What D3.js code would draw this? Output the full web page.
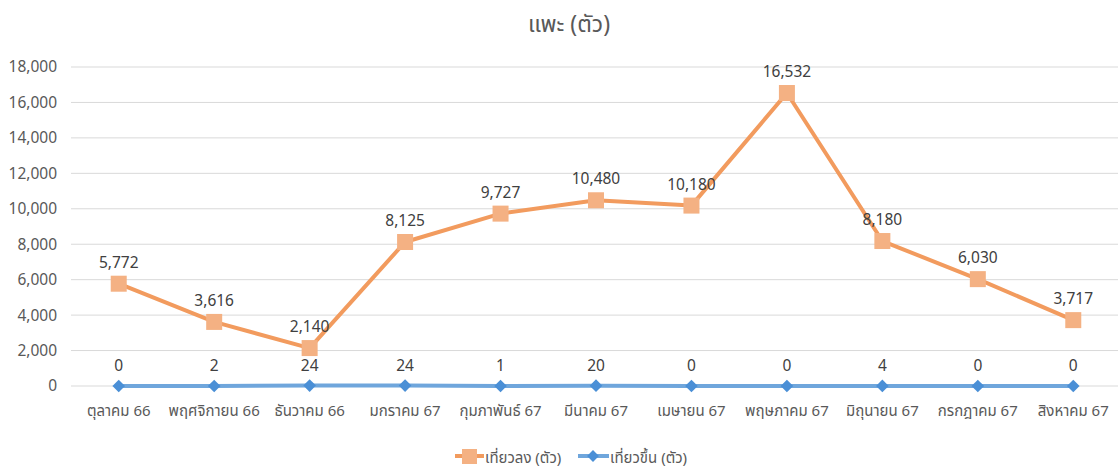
<!DOCTYPE html>
<html><head><meta charset="utf-8">
<script src="https://cdn.jsdelivr.net/npm/d3@7"></script>
<style>
body{margin:0;background:#fff;}
svg text{font-family:"Noto Sans","Noto Sans Thai",Carlito,"Open Sans",sans-serif;}
</style></head>
<body><svg id="c" width="1118" height="469"></svg>
<script>
const categories = ["ตุลาคม 66","พฤศจิกายน 66","ธันวาคม 66","มกราคม 67","กุมภาพันธ์ 67","มีนาคม 67","เมษายน 67","พฤษภาคม 67","มิถุนายน 67","กรกฎาคม 67","สิงหาคม 67"];
const downValues = [5772,3616,2140,8125,9727,10480,10180,16532,8180,6030,3717];
const upValues = [0,2,24,24,1,20,0,0,4,0,0];
const yTicks = [0,2000,4000,6000,8000,10000,12000,14000,16000,18000];
const titleText = "แพะ (ตัว)";
const seriesNames = ["เที่ยวลง (ตัว)","เที่ยวขึ้น (ตัว)"];

const svg = d3.select("#c");
const x = d3.scaleBand().domain(categories).range([71,1121]);
const y = d3.scaleLinear().domain([0,18000]).range([386,67]);
const cx = d => x(d) + x.bandwidth()/2;
const fmt = d3.format(",");

// title
svg.append("text").attr("x",569).attr("y",32).attr("text-anchor","middle")
  .attr("font-size",23).attr("fill","#595959").text(titleText);

// gridlines
svg.append("g").selectAll("line").data(yTicks).join("line")
  .attr("x1",71).attr("x2",1121).attr("y1",d=>y(d)).attr("y2",d=>y(d))
  .attr("stroke","#d9d9d9").attr("stroke-width",1);

// y axis labels
const yAxis = d3.axisLeft(y).tickValues(yTicks).tickFormat(fmt).tickSize(0).tickPadding(0);
const gy = svg.append("g").attr("transform","translate(57,0)").call(yAxis);
gy.select(".domain").remove();
gy.selectAll("text").attr("font-size",15.5).attr("fill","#595959");

// x axis labels
const xAxis = d3.axisBottom(x).tickSize(0).tickPadding(0);
const gx = svg.append("g").attr("transform","translate(0,405)").call(xAxis);
gx.select(".domain").remove();
gx.selectAll("text").attr("font-size",15).attr("fill","#595959").attr("dy","0.71em");

const line = d3.line().x((d,i)=>cx(categories[i])).y(d=>y(d));

// down series (orange)
svg.append("path").datum(downValues).attr("d",line).attr("fill","none")
  .attr("stroke","#F29B5E").attr("stroke-width",4).attr("stroke-linejoin","round");
svg.append("g").selectAll("rect").data(downValues).join("rect")
  .attr("x",(d,i)=>cx(categories[i])-8).attr("y",d=>y(d)-8)
  .attr("width",16).attr("height",16).attr("fill","#F4B183");
svg.append("g").selectAll("text").data(downValues).join("text")
  .attr("x",(d,i)=>cx(categories[i])).attr("y",d=>y(d)-16)
  .attr("text-anchor","middle").attr("font-size",15.5).attr("fill","#404040")
  .text(d=>fmt(d));

// up series (blue)
svg.append("path").datum(upValues).attr("d",line).attr("fill","none")
  .attr("stroke","#6FA6DC").attr("stroke-width",4);
svg.append("g").selectAll("path").data(upValues).join("path")
  .attr("transform",(d,i)=>`translate(${cx(categories[i])},${y(d)}) rotate(45)`)
  .attr("d",d3.symbol().type(d3.symbolSquare).size(80)).attr("fill","#4A8FD6");
svg.append("g").selectAll("text").data(upValues).join("text")
  .attr("x",(d,i)=>cx(categories[i])).attr("y",d=>y(d)-15)
  .attr("text-anchor","middle").attr("font-size",15.5).attr("fill","#404040")
  .text(d=>fmt(d));

// legend
const lg = svg.append("g");
lg.append("line").attr("x1",455).attr("x2",484).attr("y1",456).attr("y2",456)
  .attr("stroke","#F29B5E").attr("stroke-width",4);
lg.append("rect").attr("x",462).attr("y",449).attr("width",15).attr("height",15).attr("fill","#F4B183");
lg.append("text").attr("x",485).attr("y",463).attr("font-size",15).attr("fill","#595959").text(seriesNames[0]);
lg.append("line").attr("x1",578).attr("x2",609).attr("y1",456).attr("y2",456)
  .attr("stroke","#6FA6DC").attr("stroke-width",4);
lg.append("path").attr("transform","translate(593,456) rotate(45)")
  .attr("d",d3.symbol().type(d3.symbolSquare).size(70)).attr("fill","#4A8FD6");
lg.append("text").attr("x",610).attr("y",463).attr("font-size",15).attr("fill","#595959").text(seriesNames[1]);
</script></body></html>
